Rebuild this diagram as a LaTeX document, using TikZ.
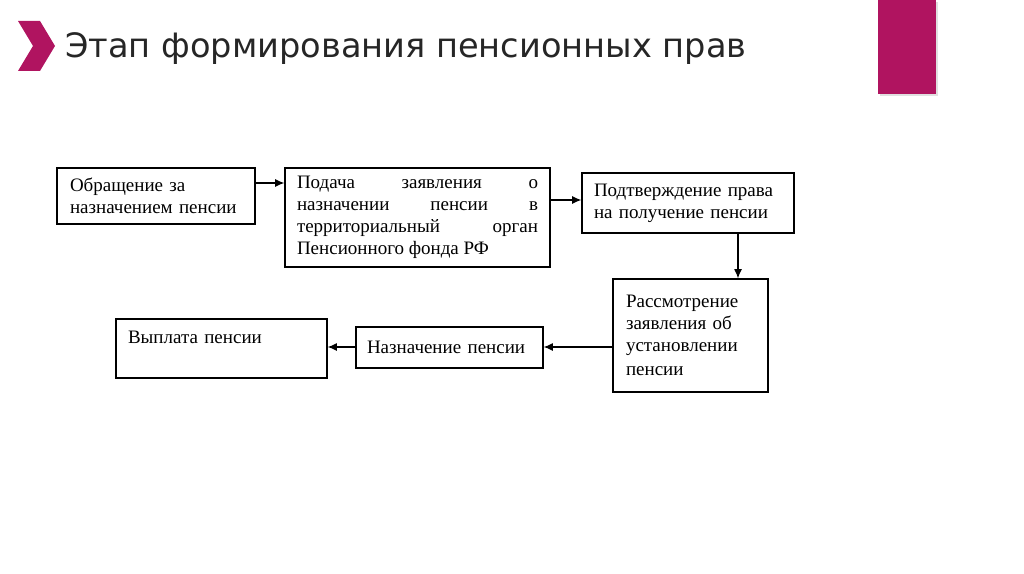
\documentclass[tikz,border=0pt]{standalone}
\usepackage{fontspec}
\setmainfont{Liberation Serif}
\newfontfamily\titlefont{DejaVu Sans}
\usetikzlibrary{arrows.meta}
\definecolor{slidemagenta}{RGB}{176,20,96}
\newcommand{\stagefont}{\fontsize{14.25pt}{16.5pt}\selectfont}

\begin{document}
\begin{tikzpicture}[x=0.75pt,y=-0.75pt,
		stage/.style={draw,line width=0.9pt,inner ysep=0pt,align=left,font=\stagefont},
		arr/.style={line width=0.9pt,-{Latex[length=7pt,width=6pt]}}]
		\useasboundingbox (0,0) rectangle (1024,574);
		\begin{scope}
			\fill[black!12] (880,2) rectangle (938,96);
			\fill[slidemagenta] (878,0) rectangle (936,94);
			\fill[slidemagenta] (18,21) -- (40,21) -- (55,46) -- (40,71) -- (18,71) -- (33,46) -- cycle;
			\node[anchor=base west,inner sep=0pt,font=\titlefont\fontsize{25.2pt}{30pt}\selectfont,text=black!85] (title) at (65,58) {Этап формирования пенсионных прав};
		\end{scope}
		\begin{scope}
			\node[stage,text width=129pt,inner xsep=9.75pt,minimum height=42pt] (b1) at (156,196) {Обращение за\\назначением пенсии};
			\node[stage,align=justify,text width=180.75pt,inner xsep=9pt,minimum height=74.25pt] (b2) at (417.5,217.5) {Подача заявления о\linebreak назначении пенсии в\linebreak территориальный орган\linebreak Пенсионного фонда РФ};
			\node[stage,text width=141pt,inner xsep=9pt,minimum height=45pt] (b3) at (688,203) {Подтверждение права\\на получение пенсии};
			\node[stage,text width=96.75pt,inner xsep=9.75pt,minimum height=84.75pt] (b4) at (690.5,335.5) {Рассмотрение\\заявления об\\установлении\\[2pt]пенсии};
			\node[stage,text width=140.25pt,inner xsep=9pt,minimum height=44.25pt] (b5) at (221.5,348.5) {Выплата пенсии\\\mbox{}};
			\node[stage,text width=123.75pt,inner xsep=8.25pt,minimum height=30.75pt] (b6) at (449.5,347.5) {Назначение пенсии};
		\end{scope}
		\begin{scope}
			\draw[arr] (b1.east |- 0,183) to (b2.west |- 0,183);
			\draw[arr] (b2.east |- 0,200) to (b3.west |- 0,200);
			\draw[arr] (b3.south -| 738,0) to (b4.north -| 738,0);
			\draw[arr] (b4.west |- 0,347) to (b6.east |- 0,347);
			\draw[arr] (b6.west |- 0,347) to (b5.east |- 0,347);
		\end{scope}
	\end{tikzpicture}
\end{document}
